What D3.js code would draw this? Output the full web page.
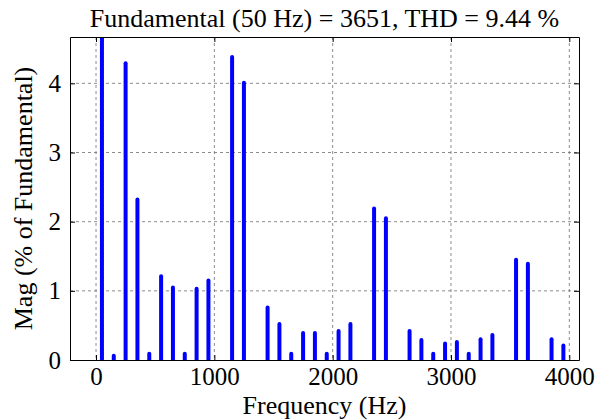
<!DOCTYPE html>
<html>
<head>
<meta charset="utf-8">
<script src="https://cdn.jsdelivr.net/npm/d3@7"></script>
</head>
<body style="margin:0">
<script>
// harmonic spectrum, odd harmonics of 50 Hz (Hz)
var freqs = [50, 150, 250, 350, 450, 550, 650, 750, 850, 950,
    1050, 1150, 1250, 1350, 1450, 1550, 1650, 1750, 1850, 1950,
    2050, 2150, 2250, 2350, 2450, 2550, 2650, 2750, 2850, 2950,
    3050, 3150, 3250, 3350, 3450, 3550, 3650, 3750, 3850, 3950];
// magnitude, % of fundamental
var mags = [100, 0.06, 4.29, 2.32, 0.09, 1.21, 1.05, 0.09, 1.03, 1.15,
    0, 4.38, 4.01, 0, 0.76, 0.52, 0.09, 0.39, 0.39, 0.09,
    0.42, 0.52, 0, 2.19, 2.05, 0, 0.42, 0.29, 0.09, 0.24,
    0.26, 0.09, 0.30, 0.36, 0, 1.45, 1.39, 0, 0.30, 0.21];
var xTicks = [0, 1000, 2000, 3000, 4000];
var yTicks = [0, 1, 2, 3, 4];
var titleText = "Fundamental (50 Hz) = 3651, THD = 9.44 %";

(function () {
    var W = 597, H = 420;
    var left = 70, right = 579, top = 37, bottom = 360;
    var FONT = "Liberation Serif";

    var svg = d3.select("body").append("svg")
        .attr("width", W)
        .attr("height", H);

    var x = d3.scaleLinear().domain([-220, 4082]).range([left, right]);
    var y = d3.scaleLinear().domain([0, 4.67]).range([bottom, top]);

    svg.append("clipPath").attr("id", "plotClip")
        .append("rect")
        .attr("x", left).attr("y", top)
        .attr("width", right - left).attr("height", bottom - top);

    //--dashed grid
    var grid = svg.append("g");
    grid.selectAll("line.gx").data(xTicks).enter().append("line")
        .attr("x1", function (d) { return x(d); })
        .attr("x2", function (d) { return x(d); })
        .attr("y1", top).attr("y2", bottom)
        .attr("stroke", "#6e6e6e").attr("stroke-width", 0.8)
        .attr("stroke-dasharray", "3,3");
    grid.selectAll("line.gy").data(yTicks.slice(1)).enter().append("line")
        .attr("y1", function (d) { return y(d); })
        .attr("y2", function (d) { return y(d); })
        .attr("x1", left).attr("x2", right)
        .attr("stroke", "#6e6e6e").attr("stroke-width", 0.8)
        .attr("stroke-dasharray", "3,3");

    //--bars
    var bars = freqs.map(function (f, i) { return {f: f, v: mags[i]}; })
        .filter(function (d) { return d.v > 0; });
    svg.append("g").attr("clip-path", "url(#plotClip)")
        .selectAll("line").data(bars).enter().append("line")
        .attr("x1", function (d) { return x(d.f); })
        .attr("x2", function (d) { return x(d.f); })
        .attr("y1", y(0))
        .attr("y2", function (d) { return y(d.v); })
        .attr("stroke", "#0000ff")
        .attr("stroke-width", 4)
        .attr("stroke-linecap", "round");

    //--axes (MATLAB style box, ticks inward)
    var fmt = d3.format("d");
    var xAxis = d3.axisBottom(x).tickValues(xTicks).tickFormat(fmt).tickSizeInner(-5).tickSizeOuter(0).tickPadding(7);
    var yAxis = d3.axisLeft(y).tickValues(yTicks).tickFormat(fmt).tickSizeInner(-5).tickSizeOuter(0).tickPadding(9);
    var gx = svg.append("g").attr("transform", "translate(0," + bottom + ")").call(xAxis);
    var gy = svg.append("g").attr("transform", "translate(" + left + ",0)").call(yAxis);
    var gxTop = svg.append("g").attr("transform", "translate(0," + top + ")")
        .call(d3.axisTop(x).tickValues(xTicks).tickSizeInner(-5).tickSizeOuter(0).tickFormat(""));
    var gyRight = svg.append("g").attr("transform", "translate(" + right + ",0)")
        .call(d3.axisRight(y).tickValues(yTicks).tickSizeInner(-5).tickSizeOuter(0).tickFormat(""));
    [gx, gy, gxTop, gyRight].forEach(function (g) {
        g.attr("font-family", FONT).attr("font-size", 25);
        g.select(".domain").attr("stroke", "#000").attr("stroke-width", 1);
        g.selectAll(".tick line").attr("stroke", "#000");
        g.selectAll("text").attr("fill", "#000").attr("font-family", FONT);
    });

    //--labels
    var addText = function (txt, tx, ty, rot) {
        return svg.append("text")
            .attr("x", 0).attr("y", 0)
            .attr("transform", "translate(" + tx + "," + ty + ")" + (rot ? " rotate(" + rot + ")" : ""))
            .attr("text-anchor", "middle")
            .attr("font-family", FONT)
            .attr("font-size", 26)
            .attr("fill", "#000")
            .text(txt);
    };
    addText(titleText, (left + right) / 2, 27);
    addText("Frequency (Hz)", (left + right) / 2, 414);
    addText("Mag (% of Fundamental)", 32, (top + bottom) / 2, -90);
})();
</script>
</body>
</html>
